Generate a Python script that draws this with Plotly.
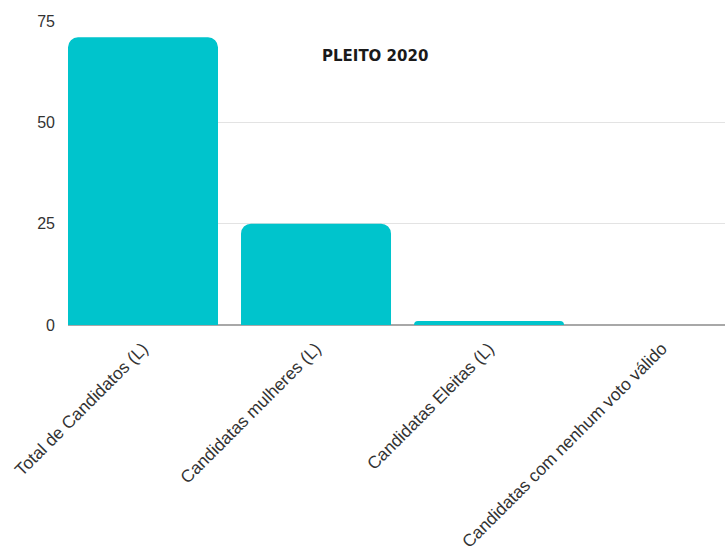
import plotly.graph_objects as go

# Candidate counts for the 2020 election
categorias = [
    "Total de Candidatos (L)",
    "Candidatas mulheres (L)",
    "Candidatas Eleitas (L)",
    "Candidatas com nenhum voto válido",
]
valores = [71, 25, 1, 0]
y_ticks = [0, 25, 50, 75]

fig = go.Figure(
    go.Bar(
        x=categorias,
        y=valores,
        marker=dict(color="#00C4CC", cornerradius=10, line=dict(width=0)),
        hoverinfo="x+y",
    )
)

fig.add_annotation(
    text="<b>PLEITO 2020</b>",
    xref="paper", yref="paper",
    x=0.467, y=0.885,
    xanchor="center", yanchor="middle",
    showarrow=False,
    font=dict(family="DejaVu Sans, sans-serif", size=15, color="#1a1a1a"),
)

fig.update_layout(
    width=725,
    height=556,
    margin=dict(l=68, r=0, t=21, b=231),
    paper_bgcolor="white",
    plot_bgcolor="white",
    bargap=0.133,
    showlegend=False,
    font=dict(family="Liberation Sans, Arial, sans-serif", color="#333333"),
)

fig.update_xaxes(
    range=[-0.4335, 3.364],
    tickangle=-45,
    tickfont=dict(size=17.4, color="#333333"),
    showgrid=False,
    showline=False,
    ticks="",
    ticklabelstandoff=9,
    automargin=False,
)

fig.update_yaxes(
    range=[0, 75],
    tickvals=y_ticks,
    tickfont=dict(size=16, color="#333333"),
    showgrid=True,
    gridcolor="#e3e3e3",
    gridwidth=1,
    zeroline=True,
    zerolinecolor="#a8a8a8",
    zerolinewidth=1.5,
    showline=False,
    ticks="",
    ticklabelstandoff=12,
    automargin=False,
)

fig.write_html("out.html")
